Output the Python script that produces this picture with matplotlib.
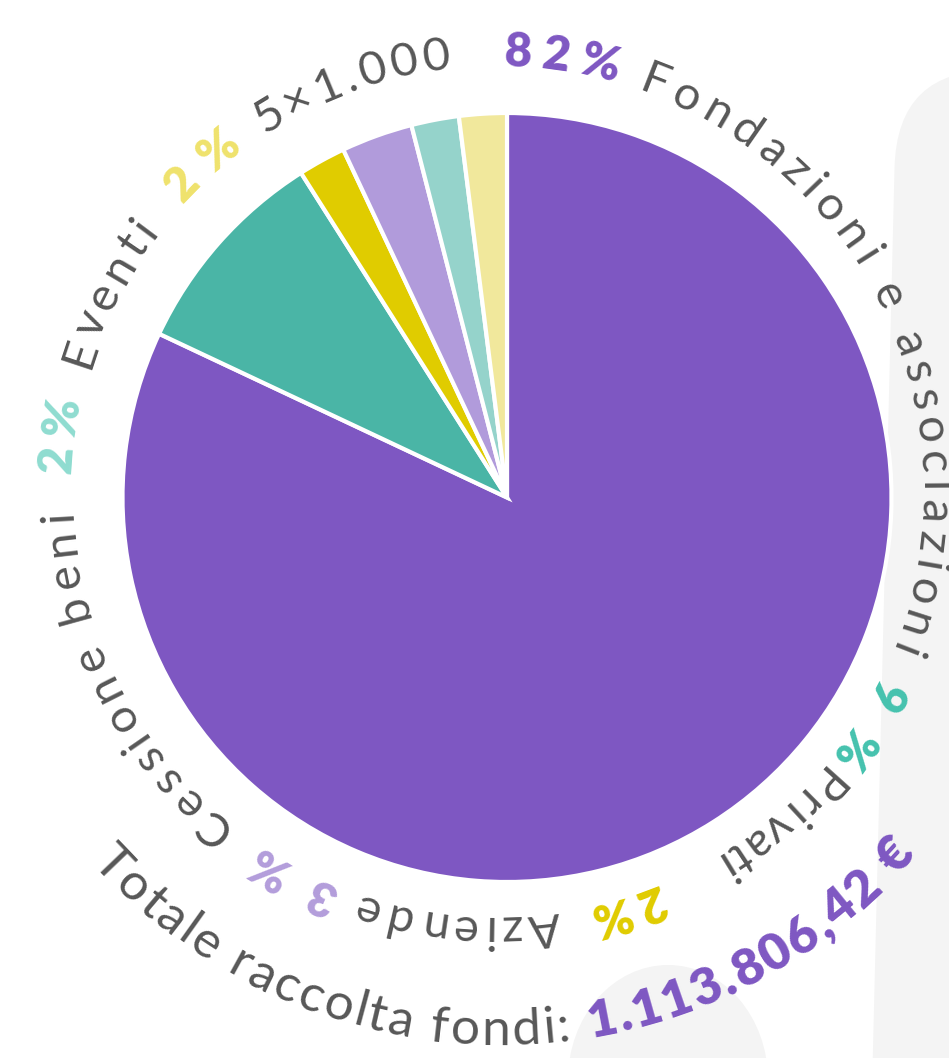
import numpy as np
import matplotlib.pyplot as plt
import matplotlib.transforms as mtransforms
from matplotlib.patches import FancyBboxPatch, Ellipse
from matplotlib.font_manager import FontProperties

# dati
categorie = ["Fondazioni e associazioni", "Privati", "Aziende",
             "Cessione beni", "Eventi", "5×1.000"]
quote = [82, 9, 2, 3, 2, 2]
etichette_pct = ["82%", "9%", "2%", "3%", "2%", "2%"]
colori_fette = ["#7e57c2", "#4ab5a6", "#e0cc00", "#b19bdb", "#95d3cb", "#f1e89c"]
colori_pct = ["#7e57c2", "#45c2ae", "#e0cc00", "#b39ddb", "#8fdcd0", "#efe26c"]
testo_totale = "Totale raccolta fondi: "
valore_totale = "1.113.806,42 €"

# posizione delle etichette sull'anello (gradi, senso orario)
span_pct = [(89.0, 73.7), (-26.0, -38.5), (-67.6, -77.6),
            (-111.5, -123.8), (-182.3, -192.3), (-222.5, -233.5)]
span_nomi = [(70.5, -22.0), (-40.0, -59.3), (-81.5, -109.0),
             (-128.0, -177.5), (-196.5, -217.5), (-237.0, -264.0)]

W, H = 949, 1058
GRIGIO = "#575757"

fig = plt.figure(figsize=(W / 100, H / 100), dpi=100)
ax = fig.add_axes([0, 0, 1, 1])

# forme grigie di sfondo
rot = mtransforms.Affine2D().rotate_deg_around(893, 828, -1.4) + ax.transData
ax.add_patch(FancyBboxPatch((893, -300), 400, 1290,
                            boxstyle="round,pad=0,rounding_size=100",
                            fc="#f4f4f4", ec="none", transform=rot, zorder=0))
ax.add_patch(Ellipse((668, -22), 200, 230, fc="#f4f4f4", ec="none", zorder=0))

# torta
cx, cy = 507, H - 497.5
ax.pie(quote, colors=colori_fette, startangle=90, counterclock=False,
       radius=384.5, center=(cx, cy), frame=True,
       wedgeprops=dict(edgecolor="white", linewidth=3))

ax.set_xlim(0, W)
ax.set_ylim(0, H)
ax.set_aspect("equal")
ax.axis("off")

renderer = fig.canvas.get_renderer()


def larghezza(c, fp):
    if c == " ":
        a = renderer.get_text_width_height_descent("a a", fp, ismath=False)[0]
        b = renderer.get_text_width_height_descent("aa", fp, ismath=False)[0]
        return a - b
    return renderer.get_text_width_height_descent(c, fp, ismath=False)[0]


def testo_arco(pezzi, a0, a1, r, centro, orario=True):
    # pezzi: lista di (stringa, colore, FontProperties)
    chars = [(c, col, fp) for s, col, fp in pezzi for c in s]
    ws = [larghezza(c, fp) for c, col, fp in chars]
    arco = abs(a1 - a0) * np.pi / 180 * r
    track = (arco - sum(ws)) / max(len(chars) - 1, 1)
    segno = -1 if orario else 1
    pos = 0
    for (c, col, fp), w in zip(chars, ws):
        ang = a0 + segno * np.degrees((pos + w / 2) / r)
        t = np.radians(ang)
        x = centro[0] + r * np.cos(t)
        y = centro[1] + r * np.sin(t)
        rotz = ang - 90 if orario else ang + 90
        ax.text(x, y, c, color=col, fontproperties=fp, rotation=rotz,
                rotation_mode="anchor", ha="center", va="baseline", zorder=5)
        pos += w + track


fp_nome = FontProperties(family="Lato", size=34)
fp_pct = FontProperties(family="Lato", weight="heavy", size=34)
centro_anello = (496, H - 491)

for i in range(len(categorie)):
    testo_arco([(etichette_pct[i], colori_pct[i], fp_pct)],
               span_pct[i][0], span_pct[i][1], 425, centro_anello)
    testo_arco([(categorie[i], GRIGIO, fp_nome)],
               span_nomi[i][0], span_nomi[i][1], 425, centro_anello)

fp_tot = FontProperties(family="Lato", size=37)
fp_val = FontProperties(family="Lato", weight="heavy", size=37)
testo_arco([(testo_totale, GRIGIO, fp_tot), (valore_totale, "#7e57c2", fp_val)],
           -137.9, -41.0, 552, (500, H - 493), orario=False)

fig.savefig("out.png", dpi=100)
